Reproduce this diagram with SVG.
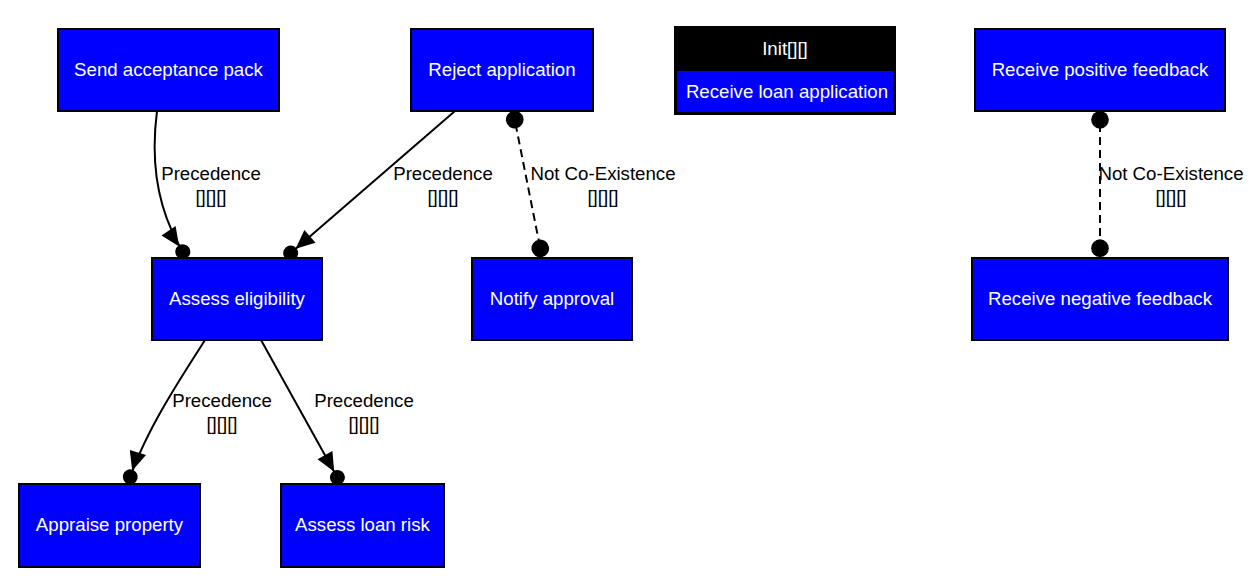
<svg xmlns="http://www.w3.org/2000/svg" width="1257" height="584" viewBox="0 0 1257 584">
<style>
.node rect{fill:#0000ff;stroke:#000;stroke-width:2}
.node text{fill:#fff;font-family:"Liberation Sans",Arial,sans-serif;font-size:18.67px;text-anchor:middle}
.edge{fill:none;stroke:#000;stroke-width:2}
.dash{stroke-dasharray:8,5}
.lbl{fill:#000;font-family:"Liberation Sans",Arial,sans-serif;font-size:18.67px;text-anchor:middle}
</style>
<defs>
<marker id="dotarrow" markerUnits="userSpaceOnUse" markerWidth="40" markerHeight="40" viewBox="-36 -15 40 30" refX="0" refY="0" orient="auto" overflow="visible">
<polygon points="-33,-8.5 -14,0 -33,8.5" fill="#000"/>
<circle cx="-7.5" cy="0" r="7.5" fill="#000"/>
</marker>
<marker id="dot" markerUnits="userSpaceOnUse" markerWidth="20" markerHeight="20" viewBox="-16 -8 17 16" refX="0" refY="0" orient="auto-start-reverse" overflow="visible">
<circle cx="-7.5" cy="0" r="7.5" fill="#000"/>
</marker>
</defs>
<rect width="1257" height="584" fill="#fff"/>
<g id="connectors">
<path class="edge" d="M157,111 C150,165 158,215 187,258" marker-end="url(#dotarrow)"/>
<path class="edge" d="M455,111 L285,258" marker-end="url(#dotarrow)"/>
<path class="edge dash" d="M513,111 L542,257" marker-start="url(#dot)" marker-end="url(#dot)"/>
<path class="edge dash" d="M1100,111 L1100,257" marker-start="url(#dot)" marker-end="url(#dot)"/>
<path class="edge" d="M205,340 C185,372 145,430 128,484" marker-end="url(#dotarrow)"/>
<path class="edge" d="M261,340 L341,484" marker-end="url(#dotarrow)"/>
<text class="lbl" x="211" y="180">Precedence</text>
<text class="lbl" x="211" y="203">[][][]</text>
<text class="lbl" x="443" y="180">Precedence</text>
<text class="lbl" x="443" y="203">[][][]</text>
<text class="lbl" x="603" y="180">Not Co-Existence</text>
<text class="lbl" x="603" y="203">[][][]</text>
<text class="lbl" x="1171" y="180">Not Co-Existence</text>
<text class="lbl" x="1171" y="203">[][][]</text>
<text class="lbl" x="222" y="407">Precedence</text>
<text class="lbl" x="222" y="430">[][][]</text>
<text class="lbl" x="364" y="407">Precedence</text>
<text class="lbl" x="364" y="430">[][][]</text>
</g>
<g id="send-acceptance-pack" class="node"><rect x="58" y="29" width="221" height="82"/><text x="168.5" y="76">Send acceptance pack</text></g>
<g id="reject-application" class="node"><rect x="411" y="29" width="182" height="82"/><text x="502" y="76">Reject application</text></g>
<g id="init-receive-loan-application" class="node">
<rect x="675" y="27" width="220" height="87" style="fill:#000"/>
<rect x="677" y="71" width="216" height="41" style="stroke:none"/>
<text x="785" y="55">Init[][]</text>
<text x="787" y="98">Receive loan application</text>
</g>
<g id="receive-positive-feedback" class="node"><rect x="975" y="29" width="250" height="82"/><text x="1100" y="76">Receive positive feedback</text></g>
<g id="assess-eligibility" class="node"><rect x="152" y="258" width="170" height="82"/><text x="237" y="305">Assess eligibility</text></g>
<g id="notify-approval" class="node"><rect x="472" y="258" width="160" height="82"/><text x="552" y="305">Notify approval</text></g>
<g id="receive-negative-feedback" class="node"><rect x="972" y="258" width="256" height="82"/><text x="1100" y="305">Receive negative feedback</text></g>
<g id="appraise-property" class="node"><rect x="19" y="484" width="181" height="83"/><text x="109.5" y="531">Appraise property</text></g>
<g id="assess-loan-risk" class="node"><rect x="281" y="484" width="163" height="83"/><text x="362.5" y="531">Assess loan risk</text></g>
</svg>
